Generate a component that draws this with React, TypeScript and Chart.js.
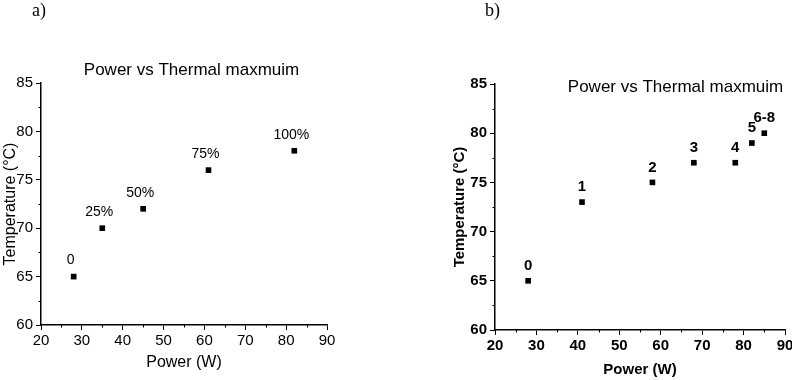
import React, { useEffect, useRef } from "react";
import { Chart, registerables } from "chart.js";

Chart.register(...registerables);

// ---- data ----
const chartTitle = "Power vs Thermal maxmuim";
const xAxisTitle = "Power (W)";
const yAxisTitle = "Temperature (°C)";

const powerA = [28, 35, 45, 61, 82];
const tempA = [65, 70, 72, 76, 78];
const labelsA = ["0", "25%", "50%", "75%", "100%"];

const powerB = [28, 41, 58, 68, 78, 82, 85];
const tempB = [65, 73, 75, 77, 77, 79, 80];
const labelsB = ["0", "1", "2", "3", "4", "5", "6-8"];

const xMin = 20;
const xMax = 90;
const xStep = 10;
const yMin = 60;
const yMax = 85;
const yStep = 5;

const FONT = '"Liberation Sans", Arial, sans-serif';

type PanelCfg = {
  xs: number[];
  ys: number[];
  labels: string[];
  width: number;
  height: number;
  pad: { top: number; right: number; left: number; bottom: number };
  yAxisWidth: number;
  xAxisHeight: number;
  yTitlePad: number;
  xTitlePad: number;
  titleDx: number;
  titleDy: number;
  labelFont: string;
  labelDx: number;
  labelDy: number;
  tickSize: number;
  bold: boolean;
  axisTitleSize: number;
};

const annotatePlugin = {
  id: "annotate",
  afterDatasetsDraw(chart: any, _args: any, opts: any) {
    const ctx = chart.ctx;
    const xs = chart.scales.x;
    const ys = chart.scales.y;
    const area = chart.chartArea;
    ctx.save();
    ctx.strokeStyle = "#000";
    ctx.lineWidth = 1;
    // minor ticks
    for (let v = xMin + xStep / 2; v < xMax; v += xStep) {
      const px = Math.round(xs.getPixelForValue(v)) + 0.5;
      ctx.beginPath();
      ctx.moveTo(px, area.bottom);
      ctx.lineTo(px, area.bottom + 2.5);
      ctx.stroke();
    }
    for (let v = yMin + yStep / 2; v < yMax; v += yStep) {
      const py = Math.round(ys.getPixelForValue(v)) + 0.5;
      ctx.beginPath();
      ctx.moveTo(area.left, py);
      ctx.lineTo(area.left - 2.5, py);
      ctx.stroke();
    }
    // point labels
    ctx.fillStyle = "#000";
    ctx.textAlign = "center";
    ctx.textBaseline = "middle";
    ctx.font = opts.labelFont;
    const meta = chart.getDatasetMeta(0);
    meta.data.forEach((pt: any, i: number) => {
      ctx.fillText(opts.labels[i], pt.x + opts.labelDx, pt.y + opts.labelDy);
    });
    // title
    ctx.font = `17px ${FONT}`;
    ctx.fillText(opts.title, area.left + opts.titleDx, area.top + opts.titleDy);
    ctx.restore();
  },
};

function Panel({ cfg }: { cfg: PanelCfg }) {
  const ref = useRef<HTMLCanvasElement>(null);
  useEffect(() => {
    if (!ref.current) return;
    const weight = cfg.bold ? "bold" : "normal";
    const tickFont = { size: cfg.tickSize, family: FONT, weight } as any;
    const axisFont = { size: cfg.axisTitleSize, family: FONT, weight } as any;
    const chart = new Chart(ref.current, {
      type: "scatter",
      data: {
        datasets: [
          {
            data: cfg.xs.map((x, i) => ({ x, y: cfg.ys[i] })),
            pointStyle: "rect",
            pointRadius: 4,
            pointBackgroundColor: "#000",
            pointBorderWidth: 0,
            showLine: false,
          },
        ],
      },
      options: {
        responsive: false,
        animation: false,
        layout: { padding: cfg.pad, autoPadding: false } as any,
        plugins: {
          legend: { display: false },
          tooltip: { enabled: false },
          title: { display: false },
          annotate: {
            labels: cfg.labels,
            labelFont: cfg.labelFont,
            labelDx: cfg.labelDx,
            labelDy: cfg.labelDy,
            title: chartTitle,
            titleDx: cfg.titleDx,
            titleDy: cfg.titleDy,
          },
        } as any,
        scales: {
          x: {
            type: "linear",
            min: xMin,
            max: xMax,
            ticks: { stepSize: xStep, color: "#000", font: tickFont, padding: 2, maxRotation: 0, autoSkip: false },
            grid: { drawOnChartArea: false, drawTicks: true, tickLength: 5, tickColor: "#000", tickWidth: 1 },
            border: { display: true, color: "#000", width: 1.5 },
            title: {
              display: true,
              text: xAxisTitle,
              color: "#000",
              font: axisFont,
              padding: { top: 0, bottom: cfg.xTitlePad },
            },
            afterFit: (s: any) => {
              s.height = cfg.xAxisHeight;
            },
          },
          y: {
            type: "linear",
            min: yMin,
            max: yMax,
            ticks: { stepSize: yStep, color: "#000", font: tickFont, padding: 3, autoSkip: false },
            grid: { drawOnChartArea: false, drawTicks: true, tickLength: 5, tickColor: "#000", tickWidth: 1 },
            border: { display: true, color: "#000", width: 1.5 },
            title: {
              display: true,
              text: yAxisTitle,
              color: "#000",
              font: axisFont,
              padding: { top: cfg.yTitlePad, bottom: 0 },
            },
            afterFit: (s: any) => {
              s.width = cfg.yAxisWidth;
            },
          },
        },
      } as any,
      plugins: [annotatePlugin as any],
    });
    return () => chart.destroy();
  }, [cfg]);
  return (
    <canvas
      ref={ref}
      width={cfg.width}
      height={cfg.height}
      style={{ width: cfg.width, height: cfg.height, display: "block" }}
    />
  );
}

const cfgA: PanelCfg = {
  xs: powerA,
  ys: tempA,
  labels: labelsA,
  width: 400,
  height: 380,
  pad: { top: 83, right: 73, left: 0, bottom: 0 },
  yAxisWidth: 41,
  xAxisHeight: 55,
  yTitlePad: 1,
  xTitlePad: 8,
  titleDx: 150.5,
  titleDy: -13,
  labelFont: `14px ${FONT}`,
  labelDx: -3,
  labelDy: -16,
  tickSize: 15,
  bold: false,
  axisTitleSize: 16,
};

const cfgB: PanelCfg = {
  xs: powerB,
  ys: tempB,
  labels: labelsB,
  width: 420,
  height: 380,
  pad: { top: 84, right: 35, left: 0, bottom: 0 },
  yAxisWidth: 95,
  xAxisHeight: 50,
  yTitlePad: 51,
  xTitlePad: 1,
  titleDx: 180.5,
  titleDy: 3.5,
  labelFont: `bold 15px ${FONT}`,
  labelDx: 0,
  labelDy: -15,
  tickSize: 15,
  bold: true,
  axisTitleSize: 15,
};

export default function App() {
  const tag: React.CSSProperties = {
    position: "absolute",
    top: 0,
    fontFamily: '"Liberation Serif", "Times New Roman", serif',
    fontSize: 18,
    lineHeight: "20px",
    color: "#000",
  };
  return (
    <div
      style={{
        position: "absolute",
        left: 0,
        top: 0,
        width: 792,
        height: 380,
        overflow: "hidden",
        background: "#fff",
      }}
    >
      <div style={{ position: "absolute", left: 0, top: 0 }}>
        <Panel cfg={cfgA} />
      </div>
      <div style={{ position: "absolute", left: 400, top: 0 }}>
        <Panel cfg={cfgB} />
      </div>
      <span style={{ ...tag, left: 32 }}>a)</span>
      <span style={{ ...tag, left: 485 }}>b)</span>
    </div>
  );
}
